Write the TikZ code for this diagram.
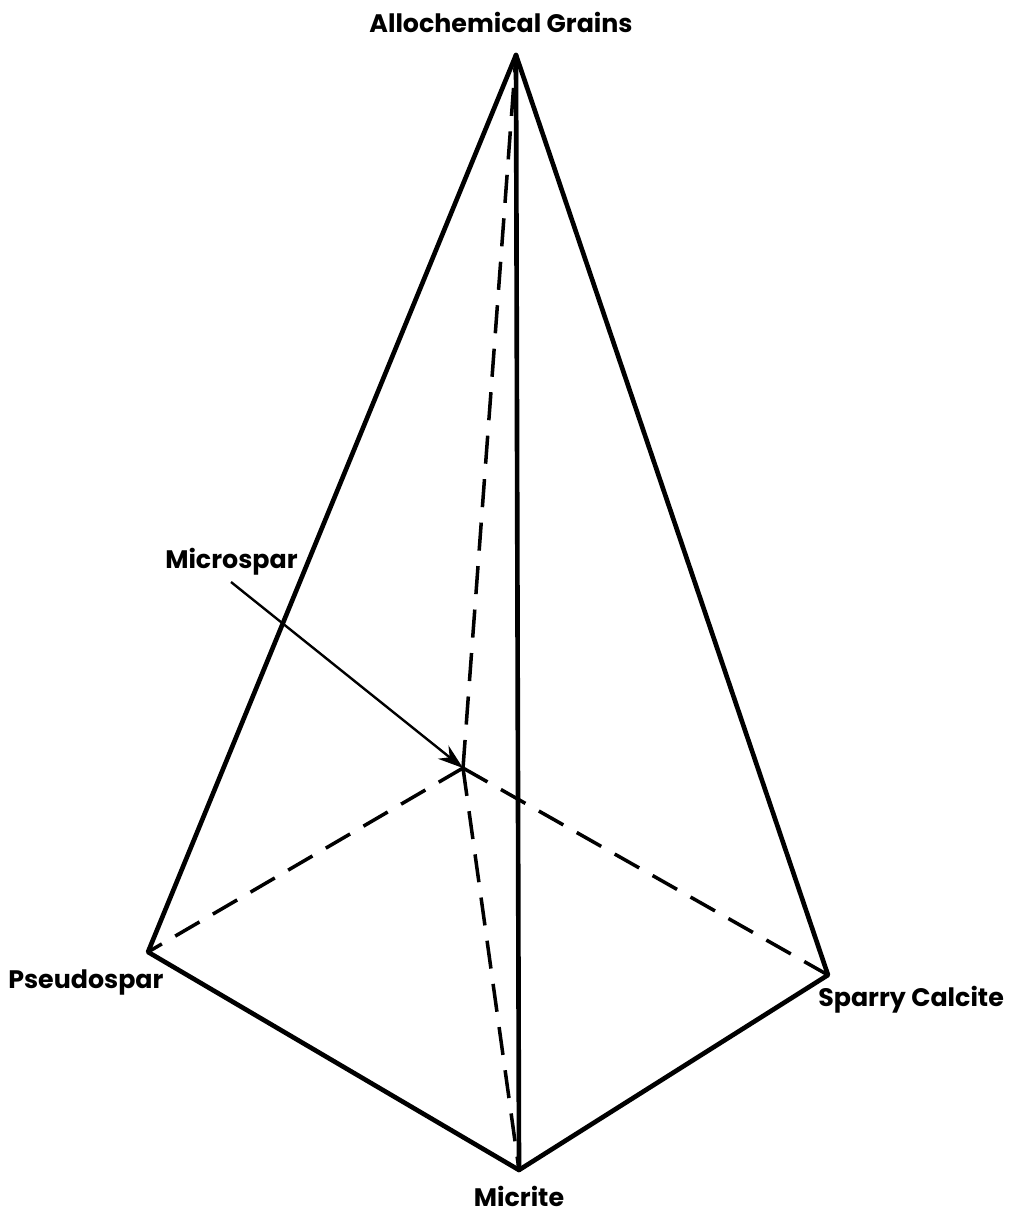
\documentclass[tikz,border=0pt]{standalone}
\usepackage{fontspec}
\setmainfont{Poppins}
\usetikzlibrary{arrows.meta}
\begin{document}
\begin{tikzpicture}[x=0.025cm, y=-0.025cm, >=stealth,
    edge/.style={line width=3.3pt, line join=round, line cap=round},
    hidden/.style={line width=2.5pt, dash pattern=on 20pt off 11pt},
    lbl/.style={font=\fontsize{18}{21}\selectfont\bfseries, inner sep=0pt}]
    \useasboundingbox (0,0) rectangle (1015,1213);

    \coordinate (apex) at (516,55);
    \coordinate (pseudo) at (148,952);
    \coordinate (micrite) at (519,1170);
    \coordinate (sparry) at (828,975);
    \coordinate (back) at (463,768);

    % hidden edges
    \foreach \v in {apex,pseudo,micrite,sparry} {
        \draw[hidden] (back) -- (\v);
    }

    % visible edges
    \draw[edge] (pseudo) -- (apex) -- (sparry) -- (micrite) -- cycle;
    \draw[edge] (apex) -- (micrite);

    \node[lbl] (allo) at (501,22) {Allochemical Grains};
    \node[lbl, anchor=west] (pseudolbl) at (8,982) {Pseudospar};
    \node[lbl, anchor=west] (sparrylbl) at (818,1000) {Sparry Calcite};
    \node[lbl] (micritelbl) at (519,1196) {Micrite};
    \node[lbl, anchor=west] (micro) at (165,562) {Microspar};

    \coordinate (tail) at (231,582);
    \draw[-{Stealth[length=18pt, width=12pt]}, line width=1.7pt] (tail) -- (back);
\end{tikzpicture}
\end{document}
